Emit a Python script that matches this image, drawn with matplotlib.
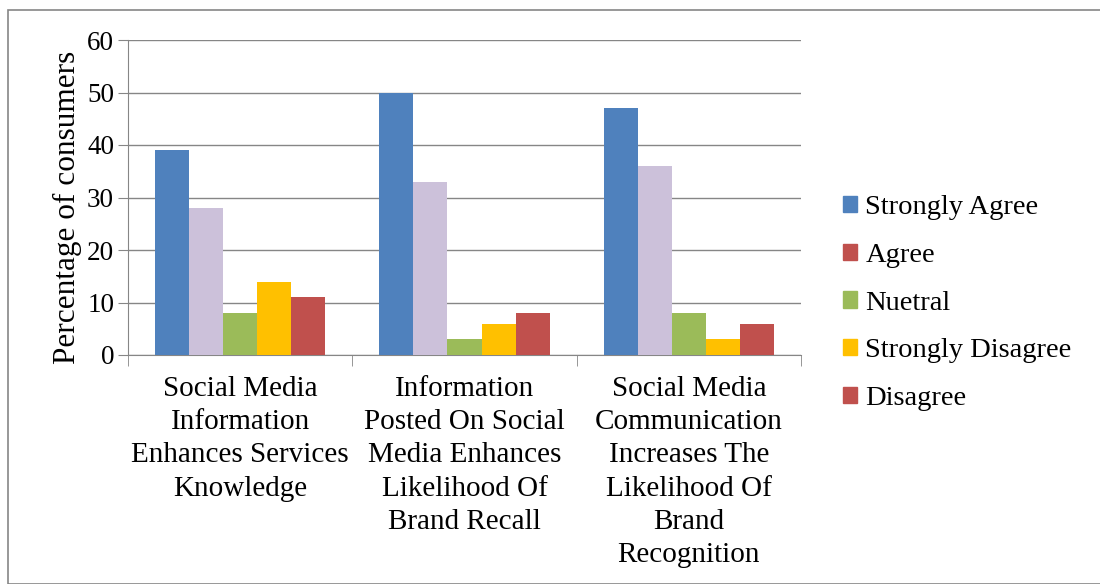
import matplotlib.pyplot as plt
import matplotlib.patches as mpatches
import numpy as np

plt.rcParams['font.family'] = ['Liberation Serif', 'DejaVu Serif']

categories = [
    "Social Media\nInformation\nEnhances Services\nKnowledge",
    "Information\nPosted On Social\nMedia Enhances\nLikelihood Of\nBrand Recall",
    "Social Media\nCommunication\nIncreases The\nLikelihood Of\nBrand\nRecognition",
]
series_names = ["Strongly Agree", "Agree", "Nuetral", "Strongly Disagree", "Disagree"]
strongly_agree = [39, 50, 47]
agree = [28, 33, 36]
nuetral = [8, 3, 8]
strongly_disagree = [14, 6, 3]
disagree = [11, 8, 6]

series = [strongly_agree, agree, nuetral, strongly_disagree, disagree]
# bar colours (Agree bars are lavender in the source, legend swatch is red)
bar_colors = ["#4F81BD", "#CCC1DA", "#9BBB59", "#FFC000", "#C0504D"]
legend_colors = ["#4F81BD", "#C0504D", "#9BBB59", "#FFC000", "#C0504D"]

fig = plt.figure(figsize=(11, 5.84), dpi=100)
ax = fig.add_axes([128 / 1100, 1 - 355 / 584, (801 - 128) / 1100, (355 - 40) / 584])

x = np.arange(len(categories))
width = 0.152
for i, vals in enumerate(series):
    ax.bar(x + (i - 2) * width, vals, width, color=bar_colors[i], zorder=3)

ax.set_xlim(-0.5, 2.5)
ax.set_ylim(0, 60)
ax.set_yticks(range(0, 61, 10))
ax.set_xticks([])
ax.set_xticks([-0.5, 0.5, 1.5, 2.5], minor=True)
ax.tick_params(axis='x', which='minor', length=8, color='#868686')
ax.tick_params(axis='y', length=7, color='#868686', labelsize=19.5, pad=3)
ax.grid(axis='y', color='#868686', linewidth=1, zorder=0)
for s in ['top', 'right']:
    ax.spines[s].set_visible(False)
ax.spines['left'].set_color('#868686')
ax.spines['bottom'].set_color('#868686')

for xi, lab in zip(x, categories):
    ax.text(xi, -4.0, lab, ha='center', va='top', fontsize=21, linespacing=1.36)

ax.set_ylabel("Percentage of consumers", fontsize=22.5)
ax.yaxis.set_label_coords(-0.068, 0.47)

handles = [mpatches.Patch(color=c, label=n) for c, n in zip(legend_colors, series_names)]
fig.legend(handles=handles, loc='center left', bbox_to_anchor=(817 / 1100, 1 - 303 / 584),
           frameon=False, fontsize=20.5, handlelength=0.5, handleheight=0.5,
           handletextpad=0.3, labelspacing=0.8)

# outer chart border
fig.patches.append(mpatches.Rectangle((8 / 1100, 0), 1.5, 1 - 10 / 584, transform=fig.transFigure,
                                      fill=False, edgecolor='#868686', linewidth=1.2))

fig.savefig("out.png", dpi=100)
